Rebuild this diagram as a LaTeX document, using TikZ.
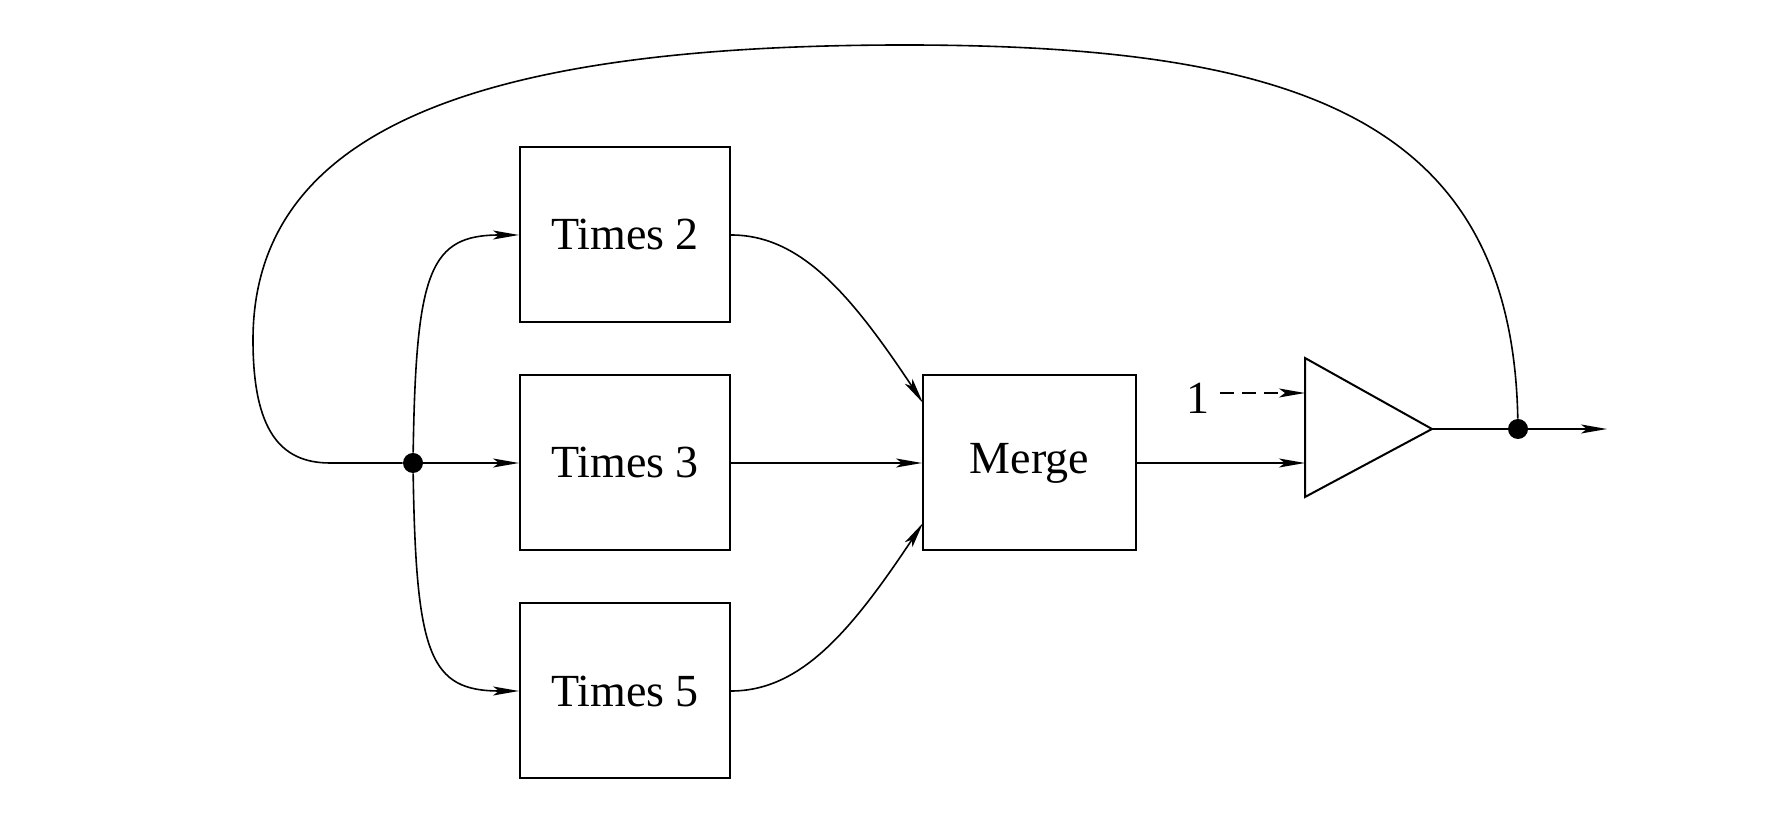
\documentclass[tikz,border=0pt]{standalone}
\usepackage{fontspec}
\setmainfont{Liberation Serif}
\usetikzlibrary{arrows.meta}
\begin{document}
\begin{tikzpicture}[x=0.5pt,y=-0.5pt,
  blk/.style={draw,line width=1pt,minimum width=105pt,minimum height=87.5pt,inner sep=0pt,font=\fontsize{23}{27}\selectfont},
  conn/.style={line width=0.8pt,-{Stealth[length=13pt,width=4.5pt,inset=3pt]}},
  wire/.style={line width=0.8pt},
  dot/.style={circle,fill=black,inner sep=0pt,minimum size=10pt}]
\useasboundingbox (0,0) rectangle (1774,822);
\node[blk] (t2) at (625,235) {Times 2};
\node[blk] (t3) at (625,463) {Times 3};
\node[blk] (t5) at (625,691) {Times 5};
\node[blk,minimum width=106.5pt] (mg) at (1029.5,463) {Merge};
\node[dot] (split) at (413,463) {};
\node[dot] (out) at (1518,429) {};
\coordinate (tl) at (1305,358);
\coordinate (bl) at (1305,497);
\coordinate (tip) at (1432,429);
\coordinate (in1) at (1305,393);
\coordinate (in2) at (1305,463);
\coordinate (end) at (1607,429);
\coordinate (m1) at (923,403);
\coordinate (m5) at (923,523);
\node[font=\fontsize{23}{27}\selectfont,inner sep=0pt] (one) at (1198,398) {1};
\draw[line width=1pt,line join=miter] (tl) -- (tip) -- (bl) -- cycle;
% split to boxes
\draw[conn] (split) .. controls (416,270) and (430,235) .. (t2.west);
\draw[conn] (split) .. controls (416,656) and (430,691) .. (t5.west);
\draw[conn] (split) -- (t3.west);
% boxes to merge
\draw[conn] (t2.east) .. controls (800,235) and (850,293) .. (m1);
\draw[conn] (t5.east) .. controls (800,691) and (850,633) .. (m5);
\draw[conn] (t3.east) -- (mg.west);
% merge to triangle
\draw[conn] (mg.east) -- (in2);
\draw[conn,dashed,dash pattern=on 7pt off 4pt] (one.east) ++(10,-5) -- (in1);
% output
\draw[wire] (tip) -- (out);
\draw[conn] (out) -- (end);
% feedback loop
\draw[wire] (out) .. controls (1512,120) and (1300,45) .. (905,45)
  .. controls (500,45) and (253,120) .. (253,340)
  .. controls (253,430) and (280,463) .. (330,463) -- (split);
\end{tikzpicture}
\end{document}
